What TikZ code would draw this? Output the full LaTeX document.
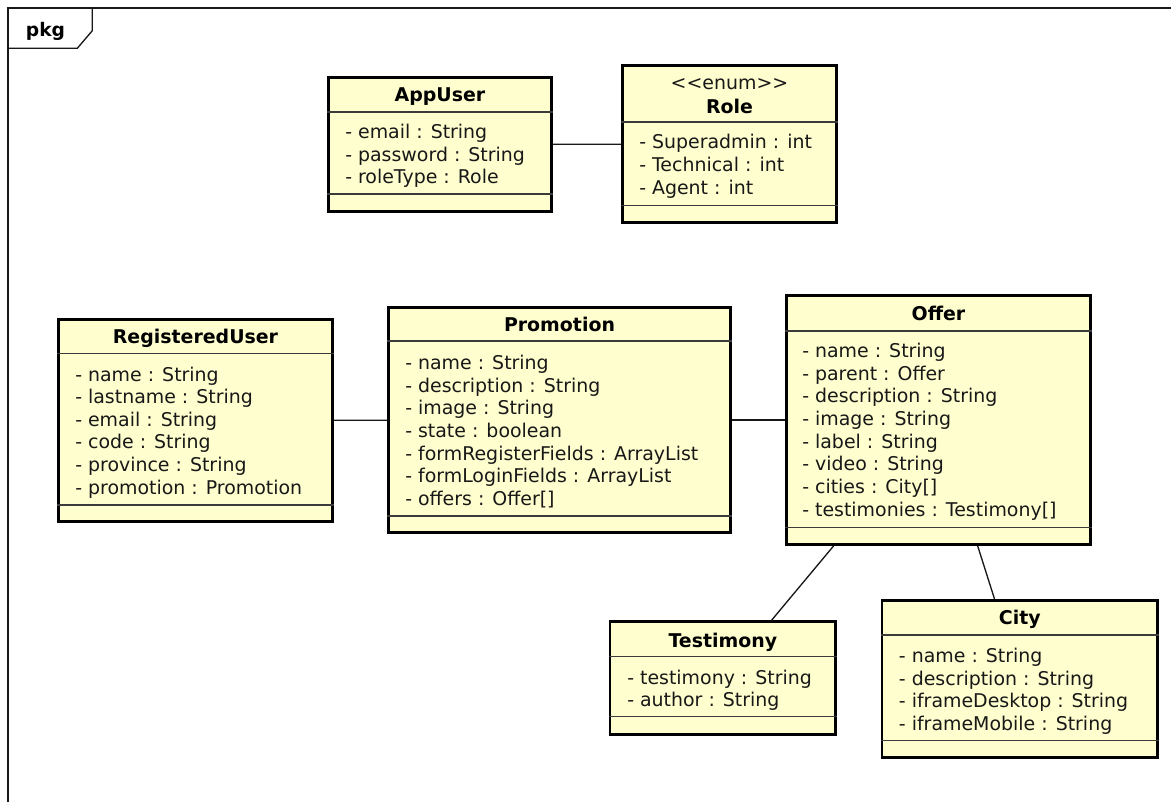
\documentclass[tikz,border=0pt]{standalone}
\usepackage{fontspec}
\setmainfont{DejaVu Sans}
\usetikzlibrary{calc}
\definecolor{clsfill}{HTML}{FEFECE}
\definecolor{inkc}{HTML}{181818}
\newcommand{\umlbox}[5]{%
  \node[clsbox, minimum width={(#4-#2-2.6)*0.75pt}, minimum height={(#5-#3-2.6)*0.75pt}] (#1) at ({(#2+#4)/2},{(#3+#5)/2}) {};}
\newcommand{\umldiv}[2]{\draw[divline] (#1.west |- 0,#2) -- (#1.east |- 0,#2);}
\tikzset{
  clsbox/.style={draw=black, fill=clsfill, line width=2pt, rectangle, inner sep=0pt},
  divline/.style={draw=inkc!85, line width=1pt},
  conn/.style={draw=inkc, line width=1pt},
  attr/.style={anchor=base west, inner sep=0pt, text=inkc, font=\fontsize{14.2}{17}\selectfont},
  ttl/.style={anchor=base, inner sep=0pt, text=black, font=\fontsize{14.2}{17}\selectfont\bfseries},
  stereo/.style={anchor=base, inner sep=0pt, text=inkc, font=\fontsize{14.2}{17}\selectfont},
}
\begin{document}
\begin{tikzpicture}[x=0.75pt,y=-0.75pt]
\useasboundingbox (0,0) rectangle (1171,802);
\clip (0,0) rectangle (1171,802);
\fill[white] (0,0) rectangle (1171,802);
% package frame
\draw[draw=inkc, line width=1pt] (8,8) rectangle (1200,830);
\draw[draw=inkc, line width=1pt] (8,48.3) -- (77.3,48.3) -- (92.3,30.7) -- (92.3,8);
\node[ttl, font=\fontsize{14}{16}\selectfont\bfseries] (pkg) at (45.5,36.5) {pkg};

% AppUser
\umlbox{appuser}{327}{76}{553}{213}
\umldiv{appuser}{112}
\umldiv{appuser}{194}
\node[ttl] (appuser-t) at (appuser.north |- 0,102) {AppUser};
\foreach \t [count=\i from 0] in {{- email : String},{- password : String},{- roleType : Role}}
  \node[attr] (appuser-a\i) at (345,{138.5+\i*22.65}) {\t};

% Role
\umlbox{role}{621}{64}{838}{224}
\umldiv{role}{122}
\umldiv{role}{205.5}
\node[stereo] (role-s) at (role.north |- 0,89.5) {{<}{<}enum{>}{>}};
\node[ttl] (role-t) at (role.north |- 0,113.3) {Role};
\foreach \t [count=\i from 0] in {{- Superadmin : int},{- Technical : int},{- Agent : int}}
  \node[attr] (role-a\i) at (639,{149+\i*22.65}) {\t};

% RegisteredUser
\umlbox{reguser}{57}{318}{334}{523}
\umldiv{reguser}{353.5}
\umldiv{reguser}{505}
\node[ttl] (reguser-t) at (reguser.north |- 0,343.5) {RegisteredUser};
\foreach \t [count=\i from 0] in {{- name : String},{- lastname : String},{- email : String},{- code : String},{- province : String},{- promotion : Promotion}}
  \node[attr] (reguser-a\i) at (75,{381+\i*22.65}) {\t};

% Promotion
\umlbox{promotion}{387}{306}{732}{534}
\umldiv{promotion}{341}
\umldiv{promotion}{516}
\node[ttl] (promotion-t) at (promotion.north |- 0,331.5) {Promotion};
\foreach \t [count=\i from 0] in {{- name : String},{- description : String},{- image : String},{- state : boolean},{- formRegisterFields : ArrayList},{- formLoginFields : ArrayList},{- offers : Offer[]}}
  \node[attr] (promotion-a\i) at (405,{369.5+\i*22.65}) {\t};

% Offer
\umlbox{offer}{785}{294}{1092}{546}
\umldiv{offer}{331}
\umldiv{offer}{527.5}
\node[ttl] (offer-t) at (offer.north |- 0,320.5) {Offer};
\foreach \t [count=\i from 0] in {{- name : String},{- parent : Offer},{- description : String},{- image : String},{- label : String},{- video : String},{- cities : City[]},{- testimonies : Testimony[]}}
  \node[attr] (offer-a\i) at (802,{357.5+\i*22.65}) {\t};

% Testimony
\umlbox{testimony}{608.6}{620.5}{837}{736}
\umldiv{testimony}{656.7}
\umldiv{testimony}{716.5}
\node[ttl] (testimony-t) at (testimony.north |- 0,647) {Testimony};
\foreach \t [count=\i from 0] in {{- testimony : String},{- author : String}}
  \node[attr] (testimony-a\i) at (627,{684+\i*22.65}) {\t};

% City
\umlbox{city}{880.7}{599}{1159}{759}
\umldiv{city}{635}
\umldiv{city}{740.5}
\node[ttl] (city-t) at (city.north |- 0,624.5) {City};
\foreach \t [count=\i from 0] in {{- name : String},{- description : String},{- iframeDesktop : String},{- iframeMobile : String}}
  \node[attr] (city-a\i) at (898.7,{662.5+\i*22.65}) {\t};

% connectors
\draw[conn] (appuser) -- (role);
\draw[conn] (reguser) -- (promotion);
\draw[conn] (promotion) -- (offer);
\draw[conn] ($(offer.south)+(-105,0)$) -- ($(testimony.north)+(48.6,0)$);
\draw[conn] ($(offer.south)+(39.2,0)$) -- ($(city.north)+(-25.35,0)$);
\end{tikzpicture}
\end{document}
